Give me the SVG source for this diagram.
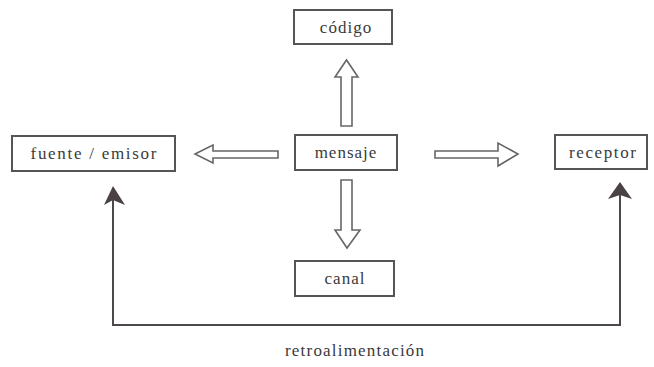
<svg xmlns="http://www.w3.org/2000/svg" width="654" height="367" viewBox="0 0 654 367">
<style>
.box{fill:#fff;stroke:#555;stroke-width:2}
.lbl{font-size:17px;fill:#3a3a3a;text-anchor:middle;letter-spacing:1px}
.hollow{fill:#fff;stroke:#666;stroke-width:1.6;stroke-linejoin:miter}
.fb{fill:none;stroke:#4f4a4a;stroke-width:2}
.head{fill:#4a4242}
</style>
<rect width="654" height="367" fill="#fff"/>
<g font-family="'Liberation Serif', 'Times New Roman', serif">
<g id="codigo"><rect class="box" x="294" y="10" width="98" height="34"/><text class="lbl" x="346" y="33">código</text></g>
<g id="fuente"><rect class="box" x="12" y="136" width="163" height="35"/><text class="lbl" x="94" y="159" textLength="127" lengthAdjust="spacing">fuente / emisor</text></g>
<g id="mensaje"><rect class="box" x="295" y="135" width="102" height="35"/><text class="lbl" x="346" y="158">mensaje</text></g>
<g id="receptor"><rect class="box" x="555" y="135" width="92" height="34"/><text class="lbl" x="603" y="158" textLength="68" lengthAdjust="spacing">receptor</text></g>
<g id="canal"><rect class="box" x="295" y="261" width="99" height="35"/><text class="lbl" x="345" y="284">canal</text></g>
<g id="connectors">
<path class="hollow" d="M341,126 V77 H335 L346.5,60 L358,77 H352 V126 Z"/>
<path class="hollow" d="M341,180 V230 H335 L347,248 L360,230 H352 V180 Z"/>
<path class="hollow" d="M278,151 H213 V145 L195,154 L213,163 V158 H278 Z"/>
<path class="hollow" d="M435,151 H498 V143 L518,154 L498,166 V158 H435 Z"/>
<polyline class="fb" points="113,200 113,325 620,325 620,195"/>
<path class="head" d="M113,186 L125,205 L113,200 L104,205 Z"/>
<path class="head" d="M620,182 L632,199 L620,195 L608,199 Z"/>
<text class="lbl" x="355" y="356" textLength="140" lengthAdjust="spacing">retroalimentación</text>
</g>
</g>
</svg>
